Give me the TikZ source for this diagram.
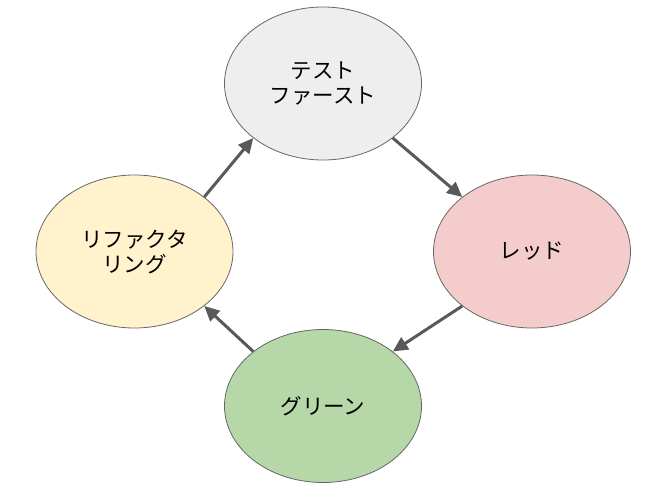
\documentclass[tikz,border=0pt]{standalone}
\usepackage{fontspec}
\setmainfont{Noto Sans CJK JP}
\usepackage{tikz}
\usetikzlibrary{arrows.meta, shapes.geometric}
\definecolor{testgray}{HTML}{EEEEEE}
\definecolor{redfill}{HTML}{F4CCCC}
\definecolor{greenfill}{HTML}{B6D7A8}
\definecolor{refacfill}{HTML}{FFF2CC}
\definecolor{edgegray}{HTML}{666666}
\definecolor{arrowgray}{HTML}{595959}

\begin{document}
\begin{tikzpicture}[
                x=1pt, y=-1pt,
                phase/.style = {ellipse, draw=edgegray, line width=0.8pt, minimum width=197pt,
                                minimum height=153pt, inner sep=0pt, align=center,
                                font=\fontsize{21.5}{25}\selectfont},
                arrow/.style = {-{Triangle[length=15pt, width=14pt]}, draw=arrowgray,
                                line width=3pt}
              ]
              \useasboundingbox (0,0) rectangle (665,497);
              % Phases
              \node[phase, fill=testgray] (test) at (323,83.5) {テスト\\ファースト};
              \node[phase, fill=redfill] (red) at (532,251.5) {レッド};
              \node[phase, fill=greenfill] (green) at (323,406) {グリーン};
              \node[phase, fill=refacfill] (refac) at (134.5,251.5) {リファクタ\\リング};
              % Cycle
              \draw[arrow] (test.-38) -- (red.142);
              \draw[arrow] (red.218) -- (green.38);
              \draw[arrow] (green.142) -- (refac.-38);
              \draw[arrow] (refac.38) -- (test.218);
            \end{tikzpicture}
\end{document}
